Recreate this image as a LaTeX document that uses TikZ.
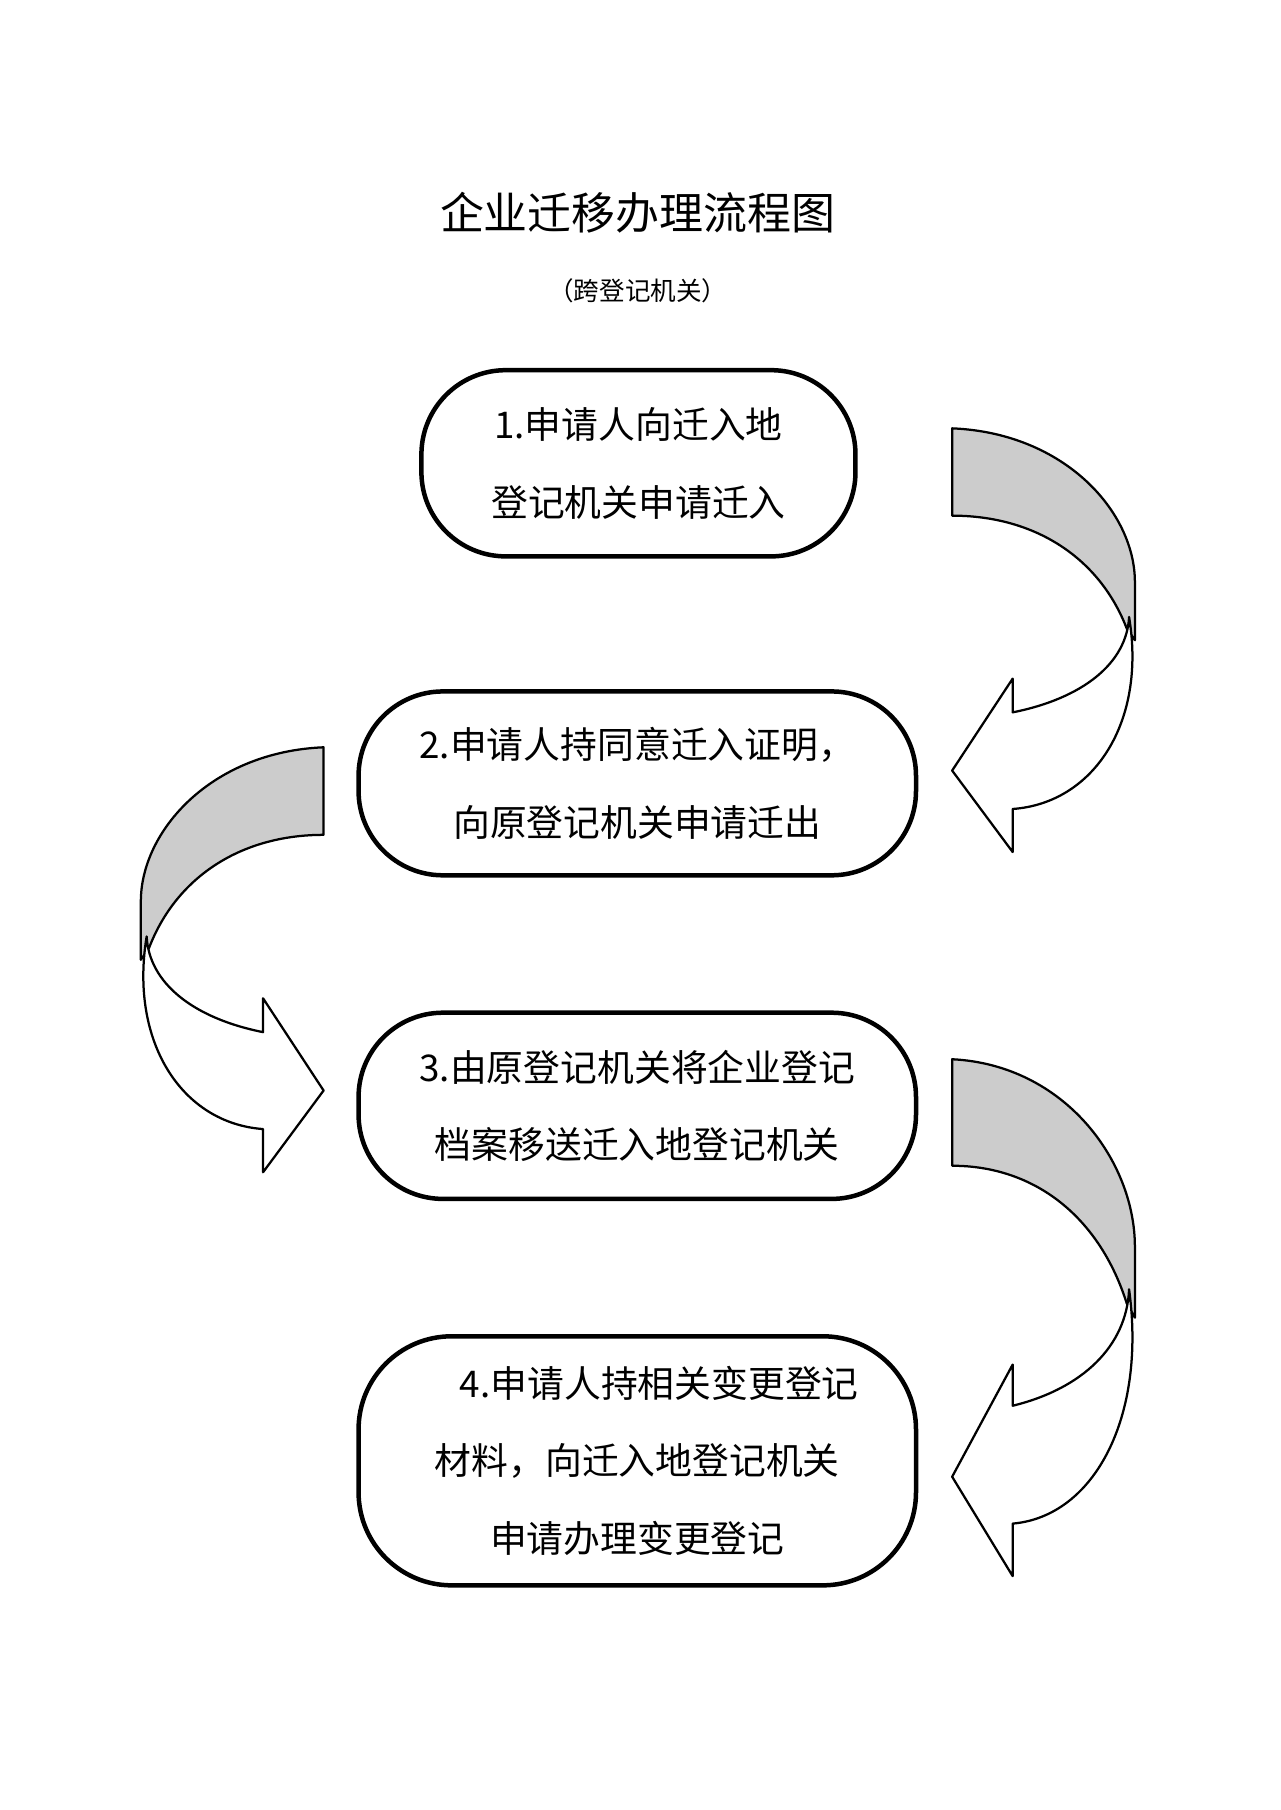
\documentclass[tikz,border=0pt]{standalone}
\usepackage{fontspec}
\setmainfont{Noto Sans CJK SC}
\begin{document}
\begin{tikzpicture}[
    x=0.02cm, y=-0.02cm,
    stepbox/.style={rectangle, draw, line width=2.2pt, rounded corners=1.45cm, align=center, font=\fontsize{18pt}{38pt}\selectfont},
    bandgray/.style={draw, line width=1.1pt, fill=black!20, line join=round},
    bandwhite/.style={draw, line width=1.1pt, fill=white, line join=round}
]
\useasboundingbox (0,0) rectangle (1100,1555);

% Title
\node (title) at (548,183) {\fontsize{21.5pt}{24pt}\selectfont 企业迁移办理流程图};
\node (subtitle) at (548,250) {\fontsize{12.5pt}{14pt}\selectfont （跨登记机关）};

% Steps
\node[stepbox, minimum width=7.46cm, minimum height=3.2cm] (s1) at (548.5,398) {1.申请人向迁入地\\登记机关申请迁入};
\node[stepbox, minimum width=9.58cm, minimum height=3.16cm] (s2) at (547.5,673) {2.申请人持同意迁入证明，\\向原登记机关申请迁出};
\node[stepbox, minimum width=9.58cm, minimum height=3.2cm] (s3) at (547.5,950) {3.由原登记机关将企业登记\\档案移送迁入地登记机关};
\node[stepbox, minimum width=9.58cm, minimum height=4.28cm, rounded corners=1.6cm] (s4) at (547.5,1255) {\hspace*{1.2em}4.申请人持相关变更登记\\材料，向迁入地登记机关\\申请办理变更登记};

% Curved arrows
\foreach \sx/\px/\py/\sy in {1/818/368/1, -1/278/642/1.003, 1/818/910/1.22} {
  \begin{scope}[shift={(\px,\py)}, xscale=\sx, yscale=\sy]
    \draw[bandgray] (0,0) .. controls (97,4) and (157,72) .. (157,132) -- (157,182)
      -- (150,172) .. controls (127,112) and (72,75) .. (0,75) -- cycle;
    \draw[bandwhite] (152,162) .. controls (167,252) and (122,322) .. (52,327)
      -- (52,364) -- (0,294) -- (52,215) -- (52,244)
      .. controls (112,232) and (150,202) .. (152,162) -- cycle;
  \end{scope}
}
\end{tikzpicture}
\end{document}
